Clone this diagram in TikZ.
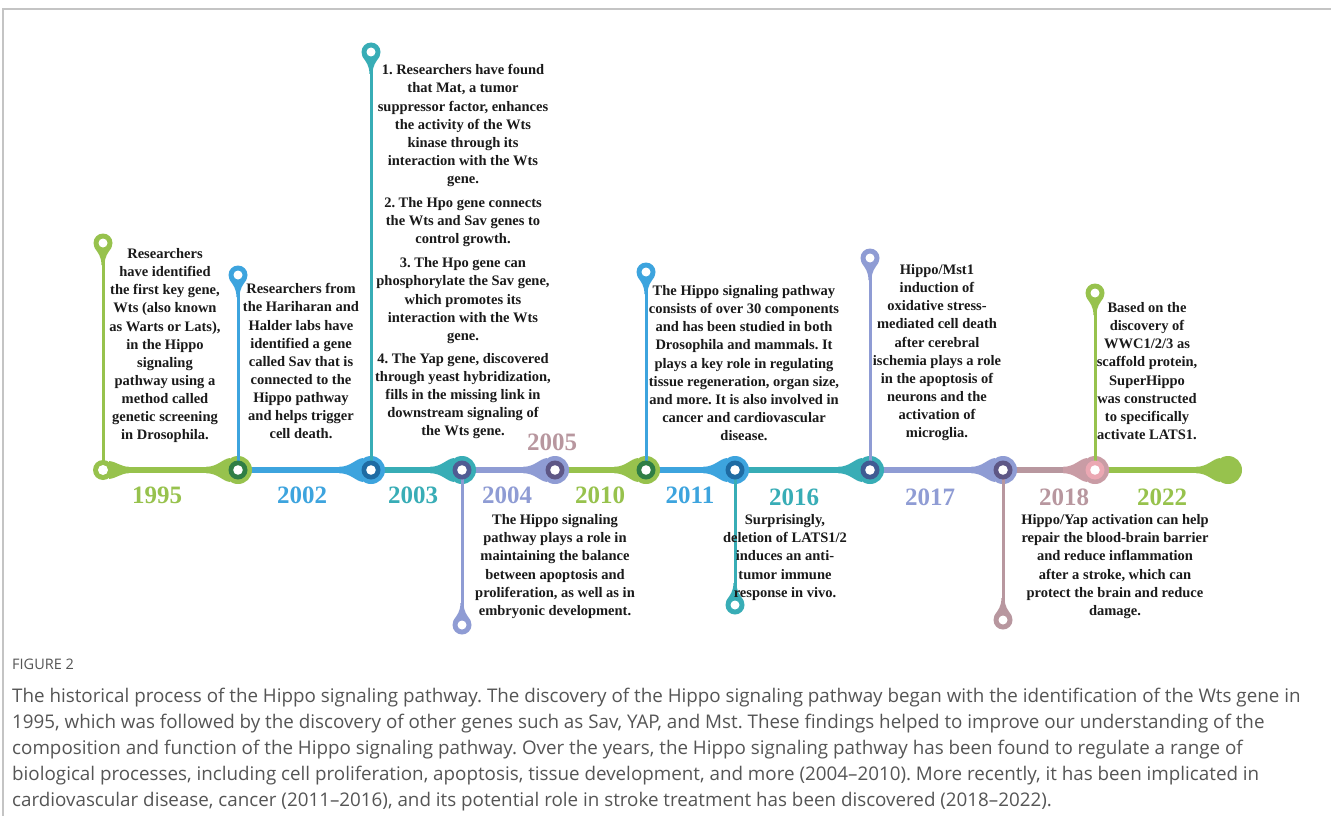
\documentclass[tikz,border=0pt]{standalone}
\usepackage{fontspec}
\setmainfont{Liberation Serif}
\newfontfamily\capfont{Open Sans}
\frenchspacing
\definecolor{cgreen}{HTML}{97C24D}
\definecolor{cblue}{HTML}{3DA4DE}
\definecolor{cteal}{HTML}{38ADB6}
\definecolor{clav}{HTML}{8F9CD4}
\definecolor{cmauve}{HTML}{B8979F}
\definecolor{dgreen}{HTML}{2F7E45}
\definecolor{dblue}{HTML}{1E6BA3}
\definecolor{dpurpA}{HTML}{4F5B93}
\definecolor{dpurpB}{HTML}{5E5786}
\definecolor{dblueB}{HTML}{3F5C93}
\definecolor{pinkO}{HTML}{C99CA5}
\definecolor{pinkI}{HTML}{EBA8B3}
\definecolor{txt}{HTML}{1A1A1A}
\definecolor{capc}{HTML}{555555}
\definecolor{framec}{HTML}{C4C4C4}
\newcommand\juncdrop[2]{%
  \begin{scope}[shift={(#1)}]
    \fill[#2] (-32,-3.2) .. controls (-20,-3.2) and (-16,-11) .. (-8,-12) -- (-8,12) .. controls (-16,11) and (-20,3.2) .. (-32,3.2) -- cycle;
    \fill[#2] (0,0) circle (14pt);
  \end{scope}}
\newcommand\juncinner[2]{%
  \fill[#2] (#1) circle (9.5pt);
  \fill[white] (#1) circle (4.8pt);}
\newcommand\pinhead[3]{%
  \begin{scope}[shift={(#1)}, yscale=#3]
    \fill[#2] (-8.6,4.5) .. controls (-5,10) and (-1.6,13) .. (-1.6,22) -- (1.6,22) .. controls (1.6,13) and (5,10) .. (8.6,4.5) -- cycle;
    \fill[#2] (0,0) circle (9.5pt);
    \fill[white] (0,0) circle (4.5pt);
  \end{scope}}
\tikzset{
  seg/.style={line width=6.5pt},
  vline/.style={line width=3pt},
  evt/.style={font=\fontsize{14.5}{18.1}\selectfont\bfseries, text=txt, align=center, inner sep=0pt, anchor=north},
  yr/.style={font=\fontsize{25}{25}\selectfont\bfseries, inner sep=0pt},
  capline/.style={font=\capfont\fontsize{18.8}{22}\selectfont, text=capc, anchor=west, inner sep=0pt},
}
\begin{document}
\begin{tikzpicture}[x=1pt,y=-1pt]
\useasboundingbox (0,0) rectangle (1331,816);
\fill[white] (0,0) rectangle (1331,816);
\draw[framec, line width=1.5pt] (3,816) -- (3,9) -- (1331,9);
% junction coordinates
\coordinate (j1) at (103,470);
\coordinate (j2) at (238,470);
\coordinate (j3) at (371,470);
\coordinate (j4) at (462,470);
\coordinate (j5) at (555,470);
\coordinate (j6) at (646,470);
\coordinate (j7) at (735,470);
\coordinate (j8) at (870,470);
\coordinate (j9) at (1003,470);
\coordinate (j10) at (1095,470);
\coordinate (j11) at (1228,470);
% pin coordinates
\coordinate (p1995) at (103,243);
\coordinate (p2002) at (238,275);
\coordinate (p2003) at (371,52);
\coordinate (p2004) at (462,625);
\coordinate (p2011) at (646,272);
\coordinate (p2016) at (735,605);
\coordinate (p2017) at (870,258);
\coordinate (p2018) at (1003,620);
\coordinate (p2022) at (1095,293);
% main segments
\draw[seg, cgreen] (j1) -- (j2);
\draw[seg, cblue] (j2) -- (j3);
\draw[seg, cteal] (j3) -- (j4);
\draw[seg, clav] (j4) -- (j5);
\draw[seg, cgreen] (j5) -- (j6);
\draw[seg, cblue] (j6) -- (j7);
\draw[seg, cteal] (j7) -- (j8);
\draw[seg, clav] (j8) -- (j9);
\draw[seg, cmauve] (j9) -- (j10);
\draw[seg, cgreen] (j10) -- (j11);
% start node
\begin{scope}[shift={(j1)}]
  \fill[cgreen] (26,-3.2) .. controls (18,-3.2) and (14,-8) .. (6,-9) -- (6,9) .. controls (14,8) and (18,3.2) .. (26,3.2) -- cycle;
  \fill[cgreen] (0,0) circle (10pt);
\end{scope}
% junction outer shapes
\juncdrop{j2}{cgreen}
\juncdrop{j3}{cblue}
\juncdrop{j4}{cteal}
\juncdrop{j5}{clav}
\juncdrop{j6}{cgreen}
\juncdrop{j7}{cblue}
\juncdrop{j8}{cteal}
\juncdrop{j9}{clav}
\juncdrop{j10}{pinkO}
\juncdrop{j11}{cgreen}
% vertical connectors
\draw[vline, cgreen] (j1) -- (p1995);
\draw[vline, cblue] (j2) -- (p2002);
\draw[vline, cteal] (j3) -- (p2003);
\draw[vline, clav] (j4) -- (p2004);
\draw[vline, cblue] (j6) -- (p2011);
\draw[vline, cteal] (j7) -- (p2016);
\draw[vline, clav] (j8) -- (p2017);
\draw[vline, cmauve] (j9) -- (p2018);
\draw[vline, cgreen] (j10) -- (p2022);
% pin heads
\pinhead{p1995}{cgreen}{1}
\pinhead{p2002}{cblue}{1}
\pinhead{p2003}{cteal}{1}
\pinhead{p2004}{clav}{-1}
\pinhead{p2011}{cblue}{1}
\pinhead{p2016}{cteal}{-1}
\pinhead{p2017}{clav}{1}
\pinhead{p2018}{cmauve}{-1}
\pinhead{p2022}{cgreen}{1}
% junction inner discs
\fill[white] (j1) circle (5pt);
\juncinner{j2}{dgreen}
\juncinner{j3}{dblue}
\juncinner{j4}{dpurpA}
\juncinner{j5}{dpurpB}
\juncinner{j6}{dgreen}
\juncinner{j7}{dblue}
\juncinner{j8}{dblueB}
\juncinner{j9}{dpurpB}
\juncinner{j10}{pinkI}
% year labels
\node[yr, text=cgreen] (y1995) at (157,495) {1995};
\node[yr, text=cblue] (y2002) at (302,495) {2002};
\node[yr, text=cteal] (y2003) at (413,495) {2003};
\node[yr, text=clav] (y2004) at (507,495) {2004};
\node[yr, text=cmauve] (y2005) at (552,442) {2005};
\node[yr, text=cgreen] (y2010) at (600,495) {2010};
\node[yr, text=cblue] (y2011) at (690,495) {2011};
\node[yr, text=cteal] (y2016) at (794,497) {2016};
\node[yr, text=clav] (y2017) at (930,497) {2017};
\node[yr, text=cmauve] (y2018) at (1064,497) {2018};
\node[yr, text=cgreen] (y2022) at (1162,497) {2022};
% event texts
\node[evt] (t1995) at (165,248.4) {Researchers\\have identified\\the first key gene,\\Wts (also known\\as Warts or Lats),\\in the Hippo\\signaling\\pathway using a\\method called\\genetic screening\\in Drosophila.};
\node[evt] (t2002) at (301,283.4) {Researchers from\\the Hariharan and\\Halder labs have\\identified a gene\\called Sav that is\\connected to the\\Hippo pathway\\and helps trigger\\cell death.};
\node[evt] (t2003) at (463,64.4) {1. Researchers have found\\that Mat, a tumor\\suppressor factor, enhances\\the activity of the Wts\\kinase through its\\interaction with the Wts\\gene.\\[6pt]2. The Hpo gene connects\\the Wts and Sav genes to\\control growth.\\[6pt]3. The Hpo gene can\\phosphorylate the Sav gene,\\which promotes its\\interaction with the Wts\\gene.\\[5pt]4. The Yap gene, discovered\\through yeast hybridization,\\fills in the missing link in\\downstream signaling of\\the Wts gene.};
\node[evt] (t2004) at (555,514.5) {The Hippo signaling\\pathway plays a role in\\maintaining the balance\\between apoptosis and\\proliferation, as well as in\\embryonic development.};
\node[evt] (t2011) at (744,285.4) {The Hippo signaling pathway\\consists of over 30 components\\and has been studied in both\\Drosophila and mammals. It\\plays a key role in regulating\\tissue regeneration, organ size,\\and more. It is also involved in\\cancer and cardiovascular\\disease.};
\node[evt] (t2016) at (785,514.5) {Surprisingly,\\deletion of LATS1/2\\induces an anti-\\tumor immune\\response in vivo.};
\node[evt] (t2017) at (937,264.4) {Hippo/Mst1\\induction of\\oxidative stress-\\mediated cell death\\after cerebral\\ischemia plays a role\\in the apoptosis of\\neurons and the\\activation of\\microglia.};
\node[evt] (t2018) at (1115,514.5) {Hippo/Yap activation can help\\repair the blood-brain barrier\\and reduce inflammation\\after a stroke, which can\\protect the brain and reduce\\damage.};
\node[evt] (t2022) at (1147,302.4) {Based on the\\discovery of\\WWC1/2/3 as\\scaffold protein,\\SuperHippo\\was constructed\\to specifically\\activate LATS1.};
% caption
\node[capline, font=\capfont\fontsize{14.5}{17}\selectfont] (figlabel) at (12,664) {FIGURE 2};
\node[capline] (c1) at (12,698) {The historical process of the Hippo signaling pathway. The discovery of the Hippo signaling pathway began with the identification of the Wts gene in};
\node[capline] (c2) at (12,724) {1995, which was followed by the discovery of other genes such as Sav, YAP, and Mst. These findings helped to improve our understanding of the};
\node[capline] (c3) at (12,750) {composition and function of the Hippo signaling pathway. Over the years, the Hippo signaling pathway has been found to regulate a range of};
\node[capline] (c4) at (12,776) {biological processes, including cell proliferation, apoptosis, tissue development, and more (2004–2010). More recently, it has been implicated in};
\node[capline] (c5) at (12,802) {cardiovascular disease, cancer (2011–2016), and its potential role in stroke treatment has been discovered (2018–2022).};
\end{tikzpicture}
\end{document}
